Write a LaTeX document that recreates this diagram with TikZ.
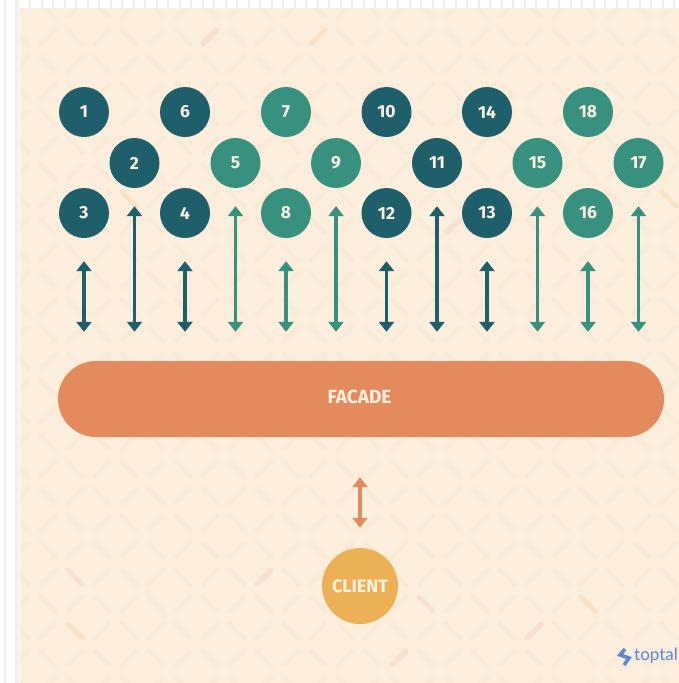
\documentclass[tikz,border=0pt]{standalone}
\usepackage{fontspec}
\setmainfont{Fira Sans}
\newfontfamily\logofont{Lato}
\usetikzlibrary{arrows.meta}
\definecolor{paper}{HTML}{FBEEDD}
\definecolor{tile}{HTML}{F8EAD7}
\definecolor{tilepink}{HTML}{F9E1D2}
\definecolor{tileorange}{HTML}{FBE1C6}
\definecolor{darkteal}{HTML}{1F5F6B}
\definecolor{lightteal}{HTML}{38907F}
\definecolor{facadeorange}{HTML}{E48B5E}
\definecolor{clientyellow}{HTML}{ECB055}
\definecolor{labelcream}{HTML}{FDF1E2}
\definecolor{logoblue}{HTML}{5B8AD4}
\tikzstyle{Dark}=[circle, minimum size=50, inner sep=0, fill=darkteal, text=labelcream, font=\bfseries\fontsize{17.5}{17.5}\selectfont]
\tikzstyle{Light}=[Dark, fill=lightteal]
\tikzstyle{DarkLink}=[line width=3.5, draw=darkteal, {Triangle[length=10,width=15]}-{Triangle[length=10,width=15]}]
\tikzstyle{LightLink}=[DarkLink, draw=lightteal]
\tikzstyle{Tile}=[line width=5, line cap=round, draw=tile]
\newcommand{\tilestroke}[3]{
    \pgfmathtruncatemacro{\tileodd}{mod(#1+#2+4,2)}
    \pgfmathsetmacro{\tiledir}{1-2*\tileodd}
    \draw[Tile, draw=#3] ({48+27*(#1)-7},{37+27*(#2)+7*\tiledir}) -- ++(14,{-14*\tiledir});
}

\begin{document}
\begin{tikzpicture}[x=1pt, y=-1pt]
    \useasboundingbox (0,0) rectangle (679,683);
    \fill[white] (0,0) rectangle (679,683);
    \fill[black!6] (4,0) rectangle (6,683);
    \fill[black!6] (15,0) rectangle (19,683);
    \foreach \i in {0,...,56}
        \fill[black!7] ({29+11.5*\i},0) rectangle ++(2,8);

    \begin{scope}
        \clip (20,8) rectangle (679,683);
        \fill[paper] (20,8) rectangle (679,683);
        \foreach \i in {-2,...,24}
            \foreach \j in {-1,...,24}
                {\tilestroke{\i}{\j}{tile}}
        \foreach \i/\j/\c in {6/0/tilepink, 10/0/tileorange, 3/6/tileorange, 15/7/tilepink,
            23/6/tileorange, 1/20/tilepink, 1/22/tileorange, 8/20/tilepink,
            14/21/tilepink, 20/21/tileorange, 18/22/tilepink, 13/23/tilepink}
            {\tilestroke{\i}{\j}{\c}}
    \end{scope}

    \path
    (84,112) node[Dark] (c1) {1}
    (134.5,163) node[Dark] (c2) {2}
    (84,213) node[Dark] (c3) {3}
    (185,213) node[Dark] (c4) {4}
    (235.5,163) node[Light] (c5) {5}
    (185,112) node[Dark] (c6) {6}
    (286,112) node[Light] (c7) {7}
    (286,213) node[Light] (c8) {8}
    (336,163) node[Light] (c9) {9}
    (386.5,112) node[Dark] (c10) {10}
    (437,163) node[Dark] (c11) {11}
    (386.5,213) node[Dark] (c12) {12}
    (487,213) node[Dark] (c13) {13}
    (487,112) node[Dark] (c14) {14}
    (537.5,163) node[Light] (c15) {15}
    (588,213) node[Light] (c16) {16}
    (638.5,163) node[Light] (c17) {17}
    (588,112) node[Light] (c18) {18};

    \path
    (361,399) node[rectangle, rounded corners=38, minimum width=606, minimum height=76, inner sep=0, fill=facadeorange] (facade) {}
    (359.5,397) node[text=labelcream, inner sep=0, font=\bfseries\fontsize{19}{19}\selectfont] (facadetext) {FACADE}
    (360,586) node[circle, minimum size=76, inner sep=0, fill=clientyellow, text=labelcream, font=\bfseries\fontsize{18}{18}\selectfont] (client) {CLIENT};

    \foreach \a/\s in {c3/DarkLink, c4/DarkLink, c8/LightLink, c12/DarkLink, c13/DarkLink, c16/LightLink}
        \draw[\s] ([yshift=-23]\a.south) -- ([yshift=29]\a.south |- facade.north);
    \foreach \a/\s in {c2/DarkLink, c5/LightLink, c9/LightLink, c11/DarkLink, c15/LightLink, c17/LightLink}
        \draw[\s] ([yshift=-18]\a.south) -- ([yshift=29]\a.south |- facade.north);
    \draw[DarkLink, line width=4, draw=facadeorange] (client.north |- facade.south) ++(0,40) -- ([yshift=20]client.north);

    \draw[logoblue, line width=3.5] (625,649) -- (620,655) -- (629,658) -- (624,665);
    \path (634,656) node[anchor=west, inner sep=0, text=logoblue, font=\logofont\fontsize{17}{17}\selectfont] (logo) {toptal};
\end{tikzpicture}
\end{document}
